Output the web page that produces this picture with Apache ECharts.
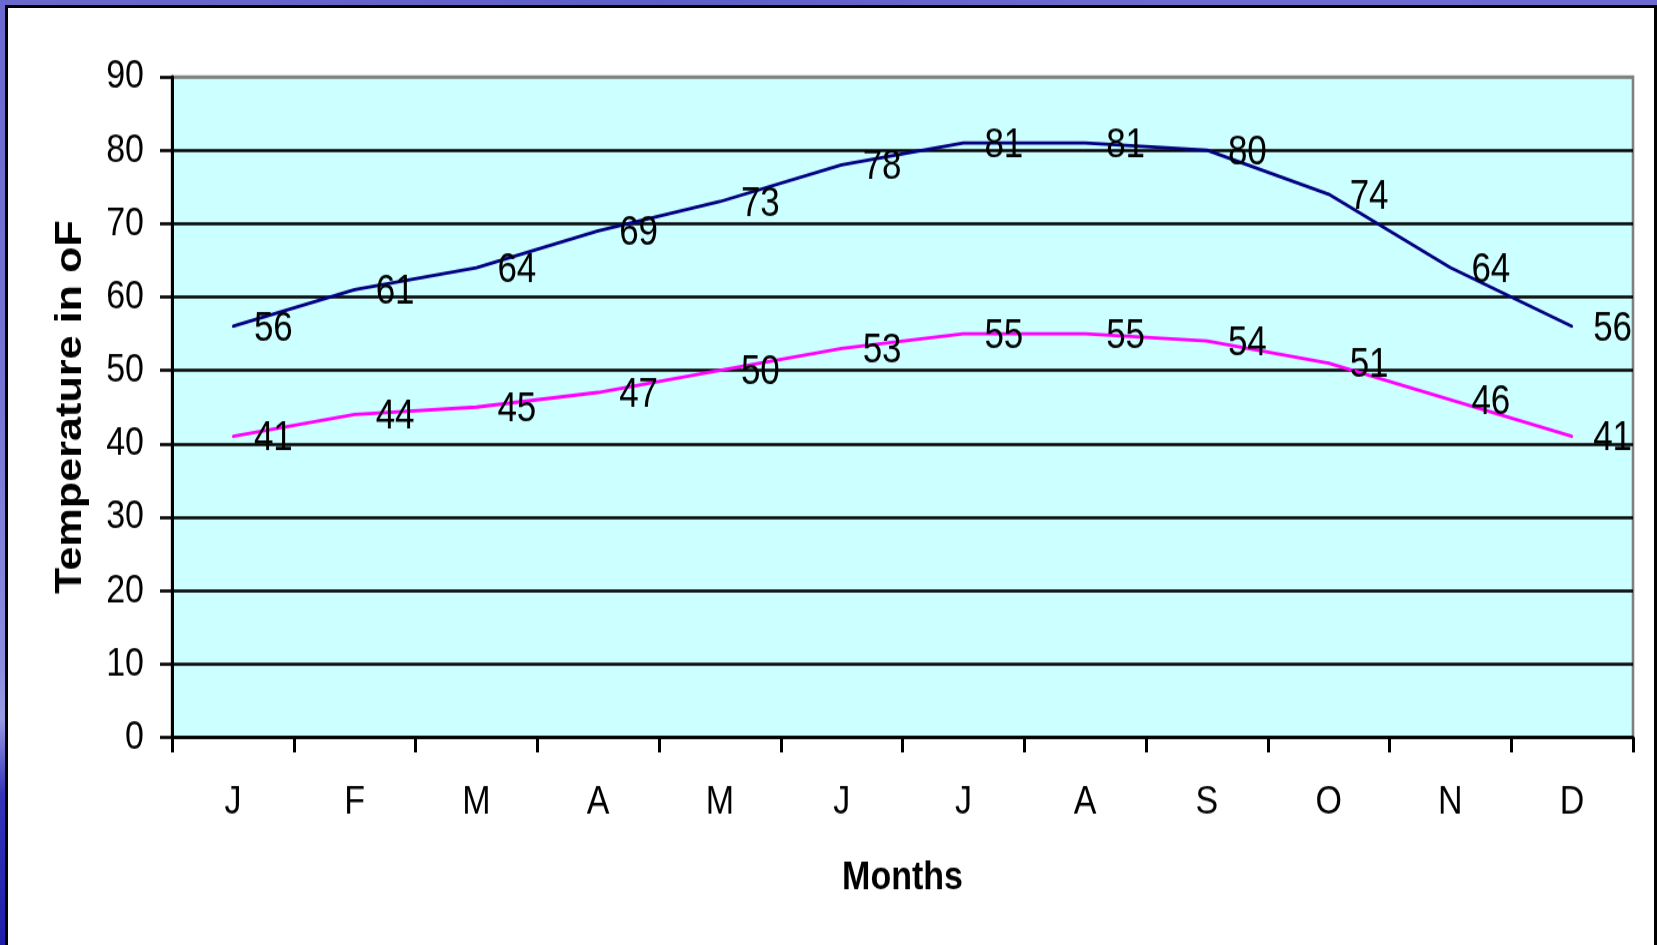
<!DOCTYPE html>
<html>
<head>
<meta charset="utf-8">
<title>Monthly Temperatures</title>
<script src="https://cdn.jsdelivr.net/npm/echarts@6/dist/echarts.min.js"></script>
<style>
  html, body { margin: 0; padding: 0; background: #ffffff; }
  #wrap { position: relative; width: 1657px; height: 945px; overflow: hidden; background: #ffffff; }
  /* the chart is laid out at a shorter height and stretched vertically,
     giving the tall, narrow lettering of the slide */
  #chart { position: absolute; left: 0; top: 0; width: 1657px; height: 787.5px;
    transform: scaleY(1.2); transform-origin: 0 0; }
  /* slide-style frame: purple band with a black rule along top, left and right */
  .band-top { position: absolute; left: 0; top: 0; width: 1657px; height: 5px;
    background: linear-gradient(90deg, #6a6acc, #5e5ec8 40%, #6c6cd0 70%, #6a6ad0); }
  .band-left { position: absolute; left: 0; top: 0; width: 5px; height: 945px;
    background: linear-gradient(180deg, #6a6ad0 0%, #7474d4 40%, #8c8ce0 70%, #9a9ae6 76%, #3434b8 84%, #1e1eaa 100%); }
  .rule-top { position: absolute; left: 5px; top: 5px; width: 1652px; height: 3px; background: #000; }
  .rule-left { position: absolute; left: 5px; top: 5px; width: 3px; height: 940px; background: #000; }
  .rule-right { position: absolute; left: 1654px; top: 5px; width: 3px; height: 940px; background: #000; }
</style>
</head>
<body>
<div id="wrap">
  <div id="chart"></div>
  <div class="band-top"></div>
  <div class="band-left"></div>
  <div class="rule-top"></div>
  <div class="rule-left"></div>
  <div class="rule-right"></div>
</div>
<script>
// Month initials along the x axis
const months = ['J', 'F', 'M', 'A', 'M', 'J', 'J', 'A', 'S', 'O', 'N', 'D'];
// Average monthly high and low temperatures (°F)
const highTemps = [56, 61, 64, 69, 73, 78, 81, 81, 80, 74, 64, 56];
const lowTemps = [41, 44, 45, 47, 50, 53, 55, 55, 54, 51, 46, 41];
// Value axis range
const yMin = 0;
const yMax = 90;
const yStep = 10;

const FONT = "'Liberation Sans', Arial, sans-serif";

// gridlines are black, the top edge of the plot is grey
const gridColors = [];
for (let v = yMin; v <= yMax; v += yStep) gridColors.push(v === yMax ? '#808080' : '#000000');

const chart = echarts.init(document.getElementById('chart'), null, { renderer: 'canvas' });

function lineSeries(name, data, color) {
  return {
    name: name,
    type: 'line',
    data: data,
    symbol: 'circle',
    symbolSize: 2,
    itemStyle: { color: color },
    lineStyle: { color: color, width: 2.8 },
    label: {
      show: true,
      position: 'right',
      distance: 20,
      offset: [0, 2],
      color: '#000',
      fontFamily: FONT,
      fontSize: 35
    },
    animation: false,
    z: 3
  };
}

chart.setOption({
  animation: false,
  grid: {
    left: 172,
    right: 24,
    top: 64,
    bottom: 173.5,
    show: true,
    backgroundColor: '#ccffff',
    borderColor: '#808080',
    borderWidth: 2.6
  },
  xAxis: {
    type: 'category',
    data: months,
    boundaryGap: true,
    name: 'Months',
    nameLocation: 'middle',
    nameGap: 100,
    nameTextStyle: { fontFamily: FONT, fontWeight: 'bold', fontSize: 34, color: '#000' },
    axisLine: { show: true, lineStyle: { color: '#000', width: 2.6 } },
    axisTick: { show: true, length: 12.5, lineStyle: { color: '#000', width: 3 }, alignWithLabel: false },
    axisLabel: { margin: 37, fontFamily: FONT, fontSize: 34, color: '#000' },
    splitLine: { show: false }
  },
  yAxis: {
    type: 'value',
    min: yMin,
    max: yMax,
    interval: yStep,
    name: 'Temperature in oF',
    nameLocation: 'middle',
    nameGap: 83,
    nameRotate: 90,
    nameTextStyle: { fontFamily: FONT, fontWeight: 'bold', fontSize: 36, color: '#000' },
    axisLine: { show: true, lineStyle: { color: '#000', width: 3 } },
    axisTick: { show: true, length: 12, lineStyle: { color: '#000', width: 2.6 } },
    axisLabel: { margin: 28, fontFamily: FONT, fontSize: 34, color: '#000' },
    splitLine: { show: true, lineStyle: { color: gridColors, width: 2.6 } }
  },
  series: [
    lineSeries('High', highTemps, '#000080'),
    lineSeries('Low', lowTemps, '#ff00ff')
  ]
});
</script>
</body>
</html>
